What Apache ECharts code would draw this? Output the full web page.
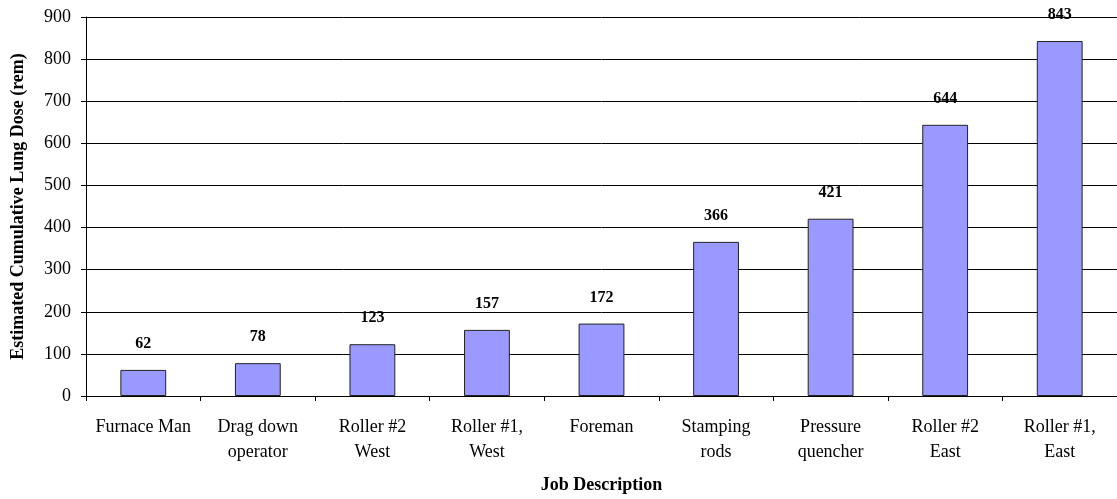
<!DOCTYPE html>
<html>
<head>
<meta charset="utf-8">
<script src="https://cdn.jsdelivr.net/npm/echarts@6/dist/echarts.min.js"></script>
<style>
html,body{margin:0;padding:0;background:#fff;overflow:hidden;}
#chart{width:1117px;height:499px;}
</style>
</head>
<body>
<div id="chart"></div>
<script>
var categories = ["Furnace Man", "Drag down\noperator", "Roller #2\nWest", "Roller #1,\nWest", "Foreman", "Stamping\nrods", "Pressure\nquencher", "Roller #2\nEast", "Roller #1,\nEast"];
var doses = [62, 78, 123, 157, 172, 366, 421, 644, 843];
var yTicks = [0, 100, 200, 300, 400, 500, 600, 700, 800, 900];
var xTitle = "Job Description";
var yTitle = "Estimated Cumulative Lung Dose (rem)";

var font = "'Liberation Serif', 'Times New Roman', serif";
var chart = echarts.init(document.getElementById('chart'), null, {renderer: 'canvas'});
chart.setOption({
  animation: false,
  backgroundColor: '#ffffff',
  grid: {left: 86, top: 17, right: -4, bottom: 96, containLabel: false},
  xAxis: {
    type: 'category',
    data: categories,
    name: xTitle,
    nameLocation: 'middle',
    nameGap: 80,
    nameTextStyle: {fontFamily: font, fontSize: 18, fontWeight: 'bold', color: '#000'},
    axisLine: {show: true, lineStyle: {color: '#000', width: 1}},
    axisTick: {show: true, alignWithLabel: false, length: 5, lineStyle: {color: '#000'}},
    axisLabel: {fontFamily: font, fontSize: 18, color: '#000', lineHeight: 25, margin: 19, interval: 0}
  },
  yAxis: {
    type: 'value',
    min: yTicks[0],
    max: yTicks[yTicks.length - 1],
    interval: yTicks[1] - yTicks[0],
    name: yTitle,
    nameLocation: 'middle',
    nameGap: 59,
    nameTextStyle: {fontFamily: font, fontSize: 18, fontWeight: 'bold', color: '#000'},
    axisLine: {show: true, lineStyle: {color: '#000', width: 1}},
    axisTick: {show: true, length: 5, lineStyle: {color: '#000'}},
    axisLabel: {fontFamily: font, fontSize: 18, color: '#000', margin: 15},
    splitLine: {show: true, lineStyle: {color: '#000', width: 1}}
  },
  series: [{
    type: 'bar',
    data: doses,
    barWidth: '40%',
    itemStyle: {color: '#9999ff', borderColor: '#222', borderWidth: 1},
    label: {
      show: true,
      position: 'top',
      distance: 18,
      fontFamily: font,
      fontSize: 16,
      fontWeight: 'bold',
      color: '#000'
    }
  }]
});
</script>
</body>
</html>
